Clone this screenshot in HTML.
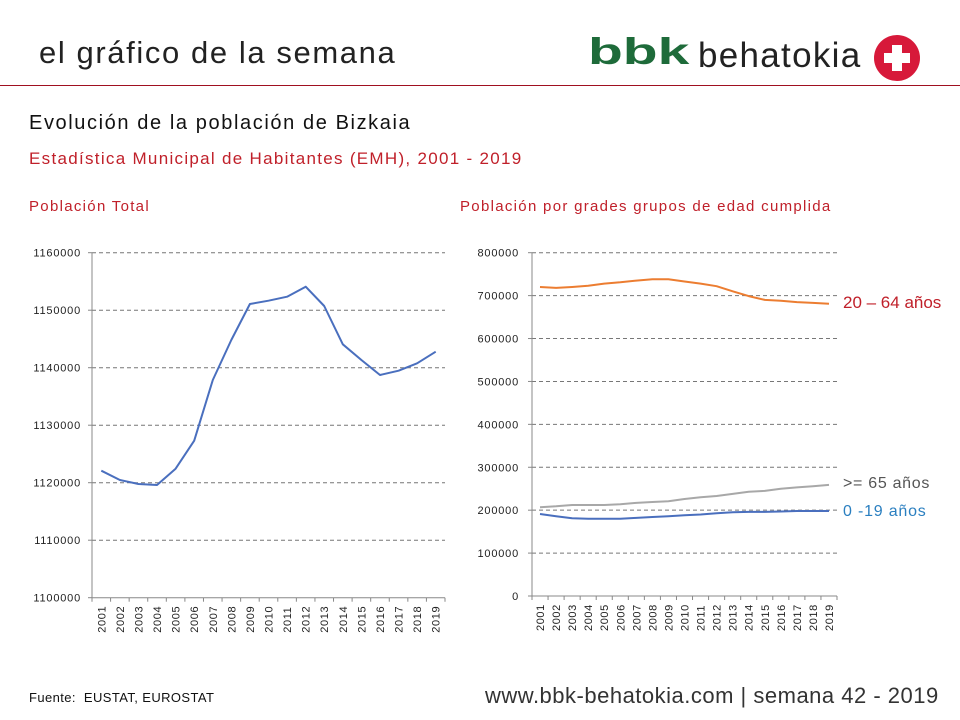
<!DOCTYPE html>
<html><head><meta charset="utf-8"><style>
body{margin:0;width:960px;height:720px;background:#fff;font-family:"Liberation Sans",sans-serif;overflow:hidden;position:relative}
.t{position:absolute;white-space:nowrap}
</style></head><body>
<div class="t" style="left:39px;top:35px;font-size:31px;color:#222;letter-spacing:1.6px">el gráfico de la semana</div>
<div class="t" style="left:588px;top:30px;font-size:37px;font-weight:bold;color:#1e6b3a;line-height:44px;transform:scaleX(1.54);transform-origin:0 0">bbk</div>
<div class="t" style="left:698px;top:34px;font-size:35px;color:#222;line-height:44px;letter-spacing:1.3px">behatokia</div>
<div style="position:absolute;left:874px;top:35px;width:46px;height:46px;border-radius:50%;background:#d7193a"></div>
<div style="position:absolute;left:892px;top:45px;width:10px;height:26px;background:#fff"></div>
<div style="position:absolute;left:884px;top:53px;width:26px;height:10px;background:#fff"></div>
<div style="position:absolute;left:0;top:85px;width:960px;height:1px;background:#a01020"></div>
<div class="t" style="left:29px;top:112px;font-size:20px;color:#111;letter-spacing:1.6px">Evolución de la población de Bizkaia</div>
<div class="t" style="left:29px;top:149px;font-size:17px;color:#c0202a;letter-spacing:1.3px">Estadística Municipal de Habitantes (EMH), 2001 - 2019</div>
<div class="t" style="left:29px;top:198px;font-size:15px;color:#c0202a;letter-spacing:1.3px">Población Total</div>
<div class="t" style="left:460px;top:198px;font-size:15px;color:#c0202a;letter-spacing:1.3px">Población por grades grupos de edad cumplida</div>
<svg id="s" width="960" height="720" style="position:absolute;left:0;top:0" font-family="Liberation Sans, sans-serif"></svg>
<div class="t" style="left:843px;top:293px;font-size:17px;color:#c0202a">20 – 64 años</div>
<div class="t" style="left:843px;top:475px;font-size:16px;color:#555;letter-spacing:0.7px">&gt;= 65 años</div>
<div class="t" style="left:843px;top:503px;font-size:16px;color:#2a7fc0;letter-spacing:0.8px">0 -19 años</div>
<div class="t" style="left:29px;top:690px;font-size:13px;color:#111;letter-spacing:0.4px">Fuente:&nbsp; EUSTAT, EUROSTAT</div>
<div class="t" style="left:485px;top:683px;font-size:22px;color:#333;letter-spacing:0.5px">www.bbk-behatokia.com | semana 42 - 2019</div>
<script>
var s=document.getElementById('s'),h='';
function chart(x0,x1,yt,yb,ticks,labs,series,lx){
 var n=19,w=(x1-x0)/n;
 ticks.forEach(function(v,i){var y=yb-(yb-yt)*i/(ticks.length-1);
  if(i>0)h+='<line x1="'+x0+'" x2="'+x1+'" y1="'+y+'" y2="'+y+'" stroke="#777" stroke-dasharray="4,3" stroke-width="1"/>';
  h+='<line x1="'+(x0-4)+'" x2="'+x0+'" y1="'+y+'" y2="'+y+'" stroke="#888"/>';
  h+='<text x="'+(x0-lx)+'" y="'+(y+4)+'" font-size="11" letter-spacing="0.8" text-anchor="end" fill="#222">'+labs[i]+'</text>';});
 h+='<line x1="'+x0+'" x2="'+x0+'" y1="'+yt+'" y2="'+yb+'" stroke="#888"/>';
 h+='<line x1="'+x0+'" x2="'+x1+'" y1="'+yb+'" y2="'+yb+'" stroke="#888"/>';
 for(var i=0;i<=n;i++){var x=x0+i*w;h+='<line x1="'+x+'" x2="'+x+'" y1="'+yb+'" y2="'+(yb+4)+'" stroke="#888"/>';}
 for(var i=0;i<n;i++){var x=x0+(i+.5)*w+4;h+='<text transform="translate('+x+','+(yb+35)+') rotate(-90)" font-size="11" letter-spacing="0.6" fill="#222">'+(2001+i)+'</text>';}
 series.forEach(function(sr){var p=sr.v.map(function(v,i){return (x0+(i+.5)*w).toFixed(1)+','+sr.f(v).toFixed(1)}).join(' ');
  h+='<polyline points="'+p+'" fill="none" stroke="'+sr.c+'" stroke-width="2" stroke-linejoin="round"/>';});
}
chart(92,445,252.7,597.7,[0,1,2,3,4,5,6],['1100000','1110000','1120000','1130000','1140000','1150000','1160000'],
 [{c:'#4a6fbe',v:[470.7,480,484,485,468.7,440.7,380,340,304,300.7,296.7,286.7,306,344.3,360,375,370.7,363.3,351.7],f:function(v){return v}}],11);
var f2=function(v){return 596-v*0.4291};
chart(532,837,252.7,596,[0,1,2,3,4,5,6,7,8],['0','100000','200000','300000','400000','500000','600000','700000','800000'],
 [{c:'#a8a8a8',v:[207,209,212,212,212,214,217,219,221,226,230,233,238,243,245,250,253,256,259],f:f2},
  {c:'#4a6fbe',v:[191,186,181,180,180,180,182,184,186,188,190,193,195,196,196,197,198,198,198],f:f2},
  {c:'#ec7d31',v:[720,718,720,723,728,731,735,738,738,733,728,722,710,699,690,688,685,683,681],f:f2}],13);
s.innerHTML=h;
</script>
</body></html>
